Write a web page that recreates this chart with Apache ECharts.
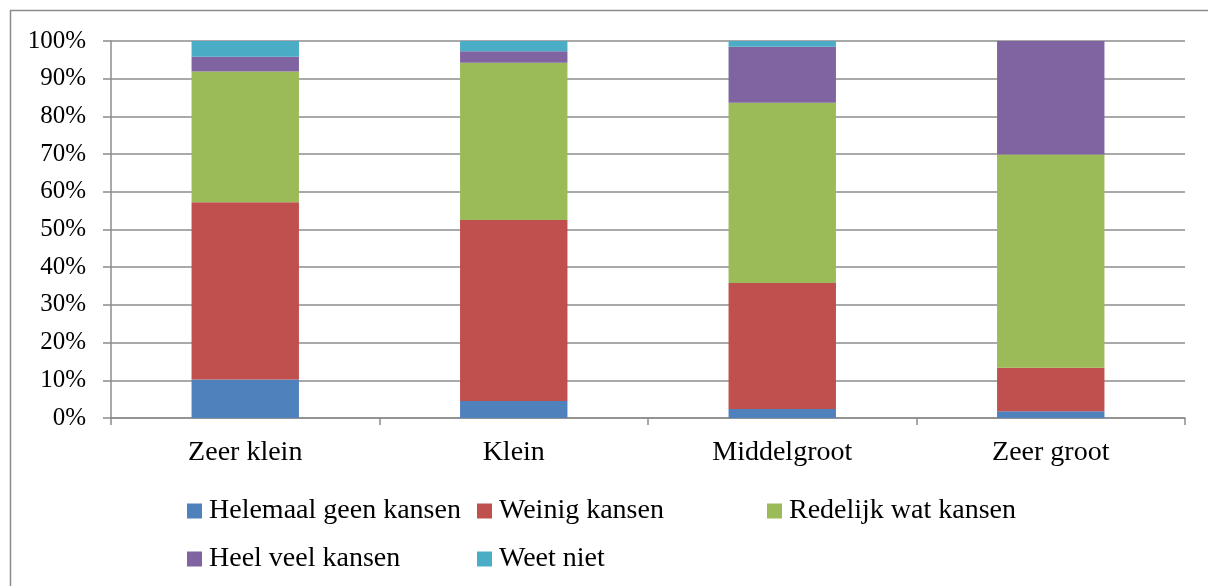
<!DOCTYPE html>
<html>
<head>
<meta charset="utf-8">
<script src="https://cdn.jsdelivr.net/npm/echarts@6/dist/echarts.min.js"></script>
<style>
html, body { margin: 0; padding: 0; background: #fff; }
#chart { width: 1208px; height: 586px; }
</style>
</head>
<body>
<div id="chart"></div>
<script>
// categorieen en aandelen (in %)
var categories = ['Zeer klein', 'Klein', 'Middelgroot', 'Zeer groot'];
var helemaalGeen = [10.2, 4.5, 2.4, 1.8];
var weinig = [47.0, 48.0, 33.4, 11.5];
var redelijk = [34.7, 41.7, 47.8, 56.6];
var heelVeel = [3.9, 3.1, 14.9, 30.1];
var weetNiet = [4.2, 2.7, 1.5, 0];
var yTicks = [0, 10, 20, 30, 40, 50, 60, 70, 80, 90, 100];

var seriesNames = ['Helemaal geen kansen', 'Weinig kansen', 'Redelijk wat kansen', 'Heel veel kansen', 'Weet niet'];
var seriesData = [helemaalGeen, weinig, redelijk, heelVeel, weetNiet];
var colors = ['#4F81BD', '#C0504D', '#9BBB59', '#8064A2', '#4BACC6'];

var font = '"Liberation Serif", serif';
var chart = echarts.init(document.getElementById('chart'));

var series = seriesNames.map(function (n, i) {
    return {
        name: n,
        type: 'bar',
        stack: 'totaal',
        barWidth: '40%',
        data: seriesData[i],
        itemStyle: { color: colors[i] }
    };
});

// legenda in een raster van drie kolommen
var legendPos = [[182, 492], [472, 492], [762, 492], [182, 540], [472, 540]];
var legends = seriesNames.map(function (n, i) {
    return {
        data: [n],
        left: legendPos[i][0],
        top: legendPos[i][1],
        itemWidth: 15,
        itemHeight: 15,
        itemGap: 0,
        icon: 'rect',
        selectedMode: false,
        textStyle: { fontFamily: font, fontSize: 28, color: '#000', padding: [0, 0, 0, 2] }
    };
});

var option = {
    animation: false,
    color: colors,
    graphic: [{
        type: 'rect',
        shape: { x: 10.5, y: 10.5, width: 1300, height: 700 },
        style: { fill: 'none', stroke: '#8c8c8c', lineWidth: 1.5 },
        silent: true
    }],
    grid: { left: 111, right: 23, top: 41, bottom: 168 },
    legend: legends,
    xAxis: {
        type: 'category',
        data: categories,
        axisLine: { lineStyle: { color: '#8c8c8c', width: 1.5 } },
        axisTick: { show: true, length: 7, lineStyle: { color: '#8c8c8c', width: 1.5 } },
        axisLabel: { fontFamily: font, fontSize: 28, color: '#000', margin: 21 }
    },
    yAxis: {
        type: 'value',
        min: yTicks[0],
        max: yTicks[yTicks.length - 1],
        interval: 10,
        axisLine: { show: true, lineStyle: { color: '#8c8c8c', width: 1.5 } },
        axisTick: { show: true, length: 8, lineStyle: { color: '#8c8c8c', width: 1.5 } },
        splitLine: { lineStyle: { color: '#8c8c8c', width: 1.5 } },
        axisLabel: {
            fontFamily: font, fontSize: 25, color: '#000', margin: 25,
            formatter: function (v) { return v + '%'; }
        }
    },
    series: series
};
chart.setOption(option);
</script>
</body>
</html>
